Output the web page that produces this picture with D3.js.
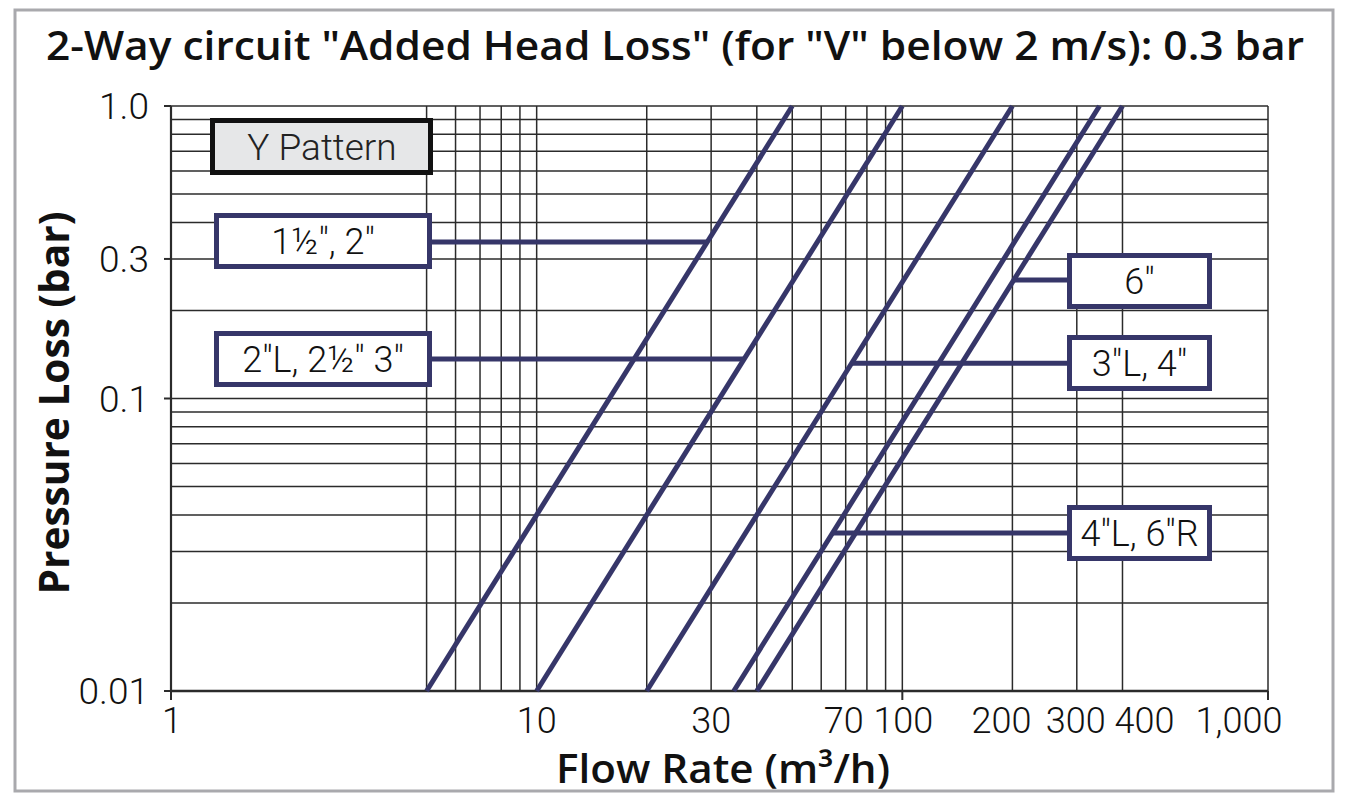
<!DOCTYPE html>
<html>
<head>
<meta charset="utf-8">
<script src="https://cdn.jsdelivr.net/npm/d3@7"></script>
<style>
  html, body { margin: 0; padding: 0; background: #fff; }
  svg { display: block; }
  text { font-family: Roboto, "Open Sans", "DejaVu Sans", sans-serif; }
</style>
</head>
<body>
<svg id="chart" width="1350" height="808"></svg>
<script>
// ---------- data ----------
const titleText = '2-Way circuit "Added Head Loss" (for "V" below 2 m/s): 0.3 bar';
const xTitle = "Flow Rate (m³/h)";
const yTitle = "Pressure Loss (bar)";

// curves: flow at 0.01 bar and at 1.0 bar (straight on log-log, P ~ Q^2)
const seriesNames = ['1½", 2"', '2"L, 2½" 3"', '3"L, 4"', '4"L, 6"R', '6"'];
const flowAtMinP = [5, 10, 20, 34.6, 40];
const flowAtMaxP = [50, 100, 200, 346, 400];
const pressureRange = [0.01, 1.0];

// pressure at which each label's leader touches its curve
const labelPressure = [0.343, 0.1365, 0.132, 0.0347, 0.254];

// grid & ticks
const xGridValues = [1, 5, 6, 7, 8, 9, 10, 20, 30, 40, 50, 60, 70, 80, 90, 100, 200, 300, 400, 1000];
const yGridValues = [1, 0.9, 0.8, 0.7, 0.6, 0.5, 0.4, 0.3, 0.2, 0.1, 0.09, 0.08, 0.07, 0.06, 0.05, 0.04, 0.03, 0.02, 0.01];
const xTickValues = [1, 10, 30, 70, 100, 200, 300, 400, 1000];
const xTickLabels = ["1", "10", "30", "70", "100", "200", "300", "400", "1,000"];
const xTickMarks = [1, 100, 1000];
const yTickValues = [1, 0.3, 0.1, 0.01];
const yTickLabels = ["1.0", "0.3", "0.1", "0.01"];
const patternLabel = "Y Pattern";

// ---------- layout ----------
const plot = { left: 171, right: 1268, top: 106, bottom: 691 };
const navy = "#363669";
// horizontal nudges of x tick labels (px), as in the reference
const xLabelNudge = [1, 0, 0, -2, 1, -11, -1, 22, -29];

// label boxes: outer box
const boxes = [
  { x: 214, y: 213, w: 218, h: 56, side: "left" },
  { x: 214, y: 331, w: 218, h: 56, side: "left" },
  { x: 1067, y: 335, w: 145, h: 56, side: "right" },
  { x: 1067, y: 505, w: 145, h: 56, side: "right" },
  { x: 1067, y: 253, w: 145, h: 56, side: "right" }
];

const svg = d3.select("#chart");

const x = d3.scaleLog().domain([1, 1000]).range([plot.left, plot.right]);
const y = d3.scaleLog().domain([0.01, 1]).range([plot.bottom, plot.top]);

// outer frame
svg.append("rect")
  .attr("x", 15).attr("y", 10).attr("width", 1318).attr("height", 781)
  .attr("fill", "none").attr("stroke", "#a9a9ad").attr("stroke-width", 3);

// title
svg.append("text")
  .attr("x", 675).attr("y", 60)
  .attr("text-anchor", "middle")
  .style("font-family", '"Open Sans", Roboto, sans-serif')
  .attr("font-size", 40).attr("font-weight", 600)
  .attr("fill", "#111")
  .attr("textLength", 1258).attr("lengthAdjust", "spacingAndGlyphs")
  .text(titleText);

// grid
const g = svg.append("g");
g.selectAll("line.vg").data(xGridValues).join("line")
  .attr("class", "vg")
  .attr("x1", d => x(d)).attr("x2", d => x(d))
  .attr("y1", plot.top).attr("y2", plot.bottom)
  .attr("stroke", "#2b2b2b").attr("stroke-width", d => (d === 1) ? 2.2 : 1.5);
g.selectAll("line.hg").data(yGridValues).join("line")
  .attr("class", "hg")
  .attr("x1", plot.left).attr("x2", plot.right)
  .attr("y1", d => y(d)).attr("y2", d => y(d))
  .attr("stroke", "#2b2b2b").attr("stroke-width", d => (d === 0.01) ? 2.5 : 1.5);

// tick marks
g.selectAll("line.xt").data(xTickMarks).join("line")
  .attr("x1", d => x(d)).attr("x2", d => x(d))
  .attr("y1", plot.bottom).attr("y2", plot.bottom + 9)
  .attr("stroke", "#2b2b2b").attr("stroke-width", 2);
g.selectAll("line.yt").data(yTickValues).join("line")
  .attr("x1", plot.left - 7).attr("x2", plot.left)
  .attr("y1", d => y(d)).attr("y2", d => y(d))
  .attr("stroke", "#2b2b2b").attr("stroke-width", 2);

// tick labels
svg.append("g").selectAll("text").data(xTickValues).join("text")
  .attr("x", (d, i) => x(d) + xLabelNudge[i]).attr("y", 733)
  .attr("text-anchor", "middle")
  .attr("font-size", 36).attr("font-weight", 300).attr("fill", "#111")
  .text((d, i) => xTickLabels[i]);
svg.append("g").selectAll("text").data(yTickValues).join("text")
  .attr("x", 149).attr("y", d => y(d) + 13)
  .attr("text-anchor", "end")
  .attr("font-size", 37).attr("font-weight", 300).attr("fill", "#111")
  .text((d, i) => yTickLabels[i]);

// axis titles
svg.append("text")
  .attr("x", 723).attr("y", 783)
  .attr("text-anchor", "middle")
  .style("font-family", '"Open Sans", Roboto, sans-serif')
  .attr("font-size", 40).attr("font-weight", 600).attr("fill", "#111")
  .attr("textLength", 334).attr("lengthAdjust", "spacingAndGlyphs")
  .text(xTitle);
svg.append("text")
  .attr("transform", "translate(69,403) rotate(-90)")
  .attr("text-anchor", "middle")
  .style("font-family", '"Open Sans", Roboto, sans-serif')
  .attr("font-size", 42).attr("font-weight", 700).attr("fill", "#111")
  .attr("textLength", 383).attr("lengthAdjust", "spacingAndGlyphs")
  .text(yTitle);

// curves
const curves = seriesNames.map((name, i) => ({
  name,
  pts: [[flowAtMinP[i], pressureRange[0]], [flowAtMaxP[i], pressureRange[1]]]
}));
const lineGen = d3.line().x(d => x(d[0])).y(d => y(d[1]));
svg.append("g").selectAll("path").data(curves).join("path")
  .attr("d", d => lineGen(d.pts))
  .attr("fill", "none").attr("stroke", navy).attr("stroke-width", 5);

// flow on curve i at pressure p (straight between the two end points on log-log)
function flowAt(i, p) {
  const lq0 = Math.log10(flowAtMinP[i]), lq1 = Math.log10(flowAtMaxP[i]);
  const lp0 = Math.log10(pressureRange[0]), lp1 = Math.log10(pressureRange[1]);
  const t = (Math.log10(p) - lp0) / (lp1 - lp0);
  return Math.pow(10, lq0 + t * (lq1 - lq0));
}

// leaders + boxes
const lg = svg.append("g");
curves.forEach((c, i) => {
  const b = boxes[i];
  const py = y(labelPressure[i]);
  const px = x(flowAt(i, labelPressure[i]));
  const bx = b.side === "left" ? b.x + b.w : b.x;
  lg.append("line")
    .attr("x1", bx).attr("x2", px).attr("y1", py).attr("y2", py)
    .attr("stroke", navy).attr("stroke-width", 5);
  lg.append("rect")
    .attr("x", b.x + 2.5).attr("y", b.y + 2.5)
    .attr("width", b.w - 5).attr("height", b.h - 5)
    .attr("fill", "#fff").attr("stroke", navy).attr("stroke-width", 5);
  lg.append("text")
    .attr("x", b.x + b.w / 2).attr("y", b.y + b.h / 2 + 13)
    .attr("text-anchor", "middle")
    .attr("font-size", 36).attr("font-weight", 300).attr("fill", "#111")
    .text(c.name);
});

// Y Pattern box
lg.append("rect")
  .attr("x", 212.5).attr("y", 120.5).attr("width", 218).attr("height", 52)
  .attr("fill", "#e6e7e8").attr("stroke", "#111").attr("stroke-width", 5);
lg.append("text")
  .attr("x", 322).attr("y", 160)
  .attr("text-anchor", "middle")
  .attr("font-size", 37).attr("font-weight", 300).attr("fill", "#222")
  .text(patternLabel);
</script>
</body>
</html>
